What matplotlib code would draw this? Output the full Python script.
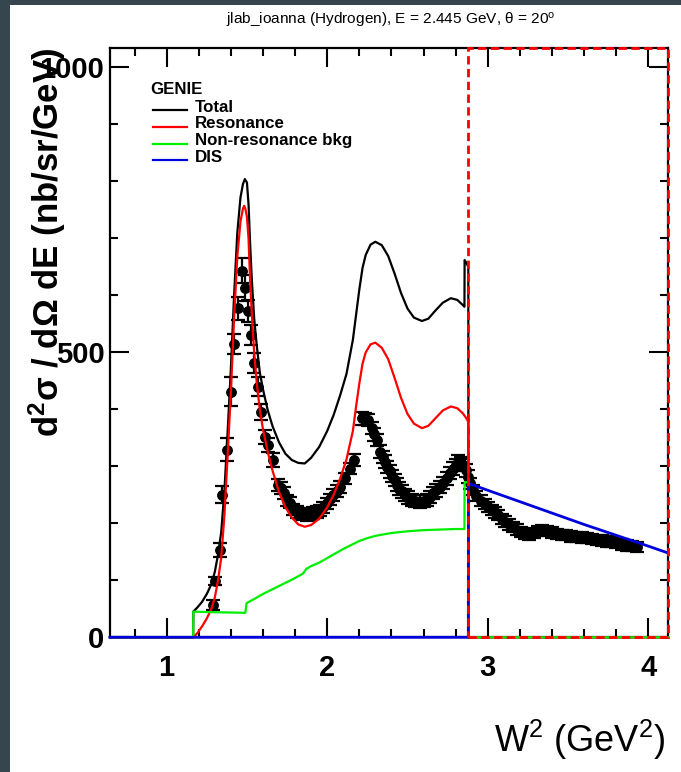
import matplotlib
matplotlib.use("Agg")
import matplotlib.pyplot as plt
from matplotlib.patches import Rectangle
from matplotlib.ticker import MultipleLocator

plt.rcParams['font.family'] = ['Liberation Sans', 'DejaVu Sans']
plt.rcParams['mathtext.fontset'] = 'custom'
plt.rcParams['mathtext.rm'] = 'Liberation Sans'
plt.rcParams['mathtext.it'] = 'Liberation Sans:italic'
plt.rcParams['mathtext.bf'] = 'Liberation Sans:bold'

# ---------------- data ----------------
# measured points (W^2 in GeV^2, cross section in nb/sr/GeV)
data_w2_a = [1.286, 1.300, 1.332, 1.347, 1.378, 1.400, 1.417, 1.446, 1.467, 1.487,
             1.508, 1.525, 1.546, 1.567, 1.588, 1.612, 1.633, 1.664, 1.695, 1.715,
             1.733, 1.748, 1.768, 1.789, 1.810, 1.830, 1.851, 1.872, 1.893, 1.913,
             1.934, 1.955, 1.976, 1.997, 2.017, 2.038, 2.059, 2.080, 2.110, 2.140, 2.170]
data_xs_a = [57, 99, 153, 250, 329, 431, 515, 577, 643, 613,
             573, 530, 481, 440, 396, 352, 337, 311, 267, 262,
             253, 240, 236, 224, 220, 217, 215, 214, 216, 218,
             220, 223, 228, 235, 242, 250, 257, 264, 279, 296, 311]
data_err_a = [9, 7, 12, 15, 20, 25, 18, 20, 22, 23,
              19, 18, 17, 17, 14, 12, 12, 12, 10, 10,
              10, 10, 10, 10, 10, 10, 10, 10, 10, 10,
              10, 10, 10, 10, 10, 10, 10, 10, 10, 10, 10]

data_w2_b = [2.215, 2.235, 2.256, 2.277, 2.290, 2.308, 2.329, 2.345, 2.360, 2.375,
             2.390, 2.405, 2.420, 2.435, 2.450, 2.465, 2.485, 2.505, 2.526, 2.550,
             2.578, 2.600, 2.620, 2.640, 2.660, 2.680, 2.700, 2.720, 2.745, 2.765,
             2.786, 2.800, 2.817, 2.833, 2.848, 2.865, 2.879]
data_xs_b = [384, 383, 381, 367, 356, 346, 326, 316, 308, 299,
             291, 283, 276, 268, 261, 256, 250, 245, 241, 239,
             238, 239, 241, 246, 253, 258, 264, 271, 279, 288,
             296, 302, 308, 305, 302, 293, 282]
data_err_b = 11

data_w2_c = [2.890, 2.910, 2.930, 2.955, 2.980, 3.000, 3.025, 3.045, 3.066, 3.090,
             3.110, 3.135, 3.160, 3.185, 3.210, 3.235, 3.260, 3.290, 3.315, 3.340,
             3.370, 3.400, 3.430, 3.460, 3.490, 3.520, 3.550, 3.585, 3.620, 3.650,
             3.680, 3.710, 3.740, 3.770, 3.800, 3.835, 3.870, 3.900, 3.930]
data_xs_c = [270, 258, 248, 240, 234, 229, 223, 219, 214, 208,
             203, 198, 194, 189, 185, 181, 179, 183, 186, 188,
             187, 184, 181, 180, 179, 177, 176, 175, 174, 172,
             171, 170, 168, 167, 165, 163, 161, 160, 158]
data_err_c = 9

# GENIE curves
total_w2 = [0.647, 1.165, 1.166, 1.19, 1.22, 1.25, 1.28, 1.30, 1.32, 1.34, 1.36, 1.38,
            1.40, 1.42, 1.44, 1.46, 1.475, 1.487, 1.50, 1.51, 1.52, 1.53, 1.545, 1.56,
            1.58, 1.60, 1.63, 1.66, 1.70, 1.74, 1.78, 1.82, 1.86, 1.90, 1.95, 2.00,
            2.04, 2.08, 2.12, 2.16, 2.18, 2.20, 2.22, 2.24, 2.27, 2.30, 2.34, 2.38,
            2.42, 2.46, 2.50, 2.54, 2.59, 2.63, 2.67, 2.72, 2.77, 2.81, 2.845, 2.855,
            2.856, 2.865, 2.879, 2.880, 4.123]
total_val = [0, 0, 45, 52, 62, 76, 94, 115, 145, 185, 258, 362,
             472, 600, 710, 772, 795, 804, 798, 760, 690, 630, 560, 515,
             465, 435, 398, 370, 342, 322, 311, 306, 305, 315, 334, 362,
             390, 424, 462, 522, 566, 610, 648, 671, 689, 694, 688, 669,
             638, 604, 577, 561, 555, 559, 572, 587, 595, 592, 583, 580,
             662, 658, 650, 0, 0]

res_w2 = [0.647, 1.166, 1.19, 1.22, 1.25, 1.28, 1.30, 1.32, 1.34, 1.36, 1.38, 1.40,
          1.42, 1.44, 1.46, 1.475, 1.483, 1.49, 1.50, 1.51, 1.52, 1.53, 1.545, 1.56,
          1.58, 1.60, 1.63, 1.66, 1.70, 1.74, 1.78, 1.82, 1.86, 1.90, 1.95, 2.00,
          2.04, 2.08, 2.12, 2.16, 2.18, 2.20, 2.22, 2.24, 2.27, 2.30, 2.34, 2.38,
          2.42, 2.46, 2.50, 2.54, 2.59, 2.63, 2.67, 2.72, 2.77, 2.81, 2.845, 2.865,
          2.879, 2.880, 4.123]
res_val = [0, 0, 7, 19, 33, 51, 70, 100, 140, 215, 320, 430,
           560, 668, 730, 752, 757, 752, 738, 700, 625, 570, 500, 450,
           400, 365, 325, 292, 255, 228, 210, 198, 194, 197, 208, 228,
           250, 278, 312, 362, 405, 445, 480, 500, 514, 517, 508, 488,
           455, 420, 392, 375, 367, 371, 383, 398, 405, 402, 393, 385,
           378, 0, 0]

nonres_w2 = [0.647, 1.165, 1.166, 1.30, 1.49, 1.498, 1.55, 1.60, 1.65, 1.70, 1.75,
             1.80, 1.85, 1.87, 1.90, 1.95, 2.00, 2.05, 2.10, 2.15, 2.20, 2.25, 2.30,
             2.40, 2.50, 2.60, 2.70, 2.80, 2.855, 2.856, 2.879, 2.880, 4.123]
nonres_val = [0, 0, 45, 44, 43, 60, 68, 76, 83, 90, 97,
              104, 112, 120, 125, 131, 139, 147, 155, 162, 169, 174, 178,
              183, 186, 188, 189, 190, 190, 272, 272, 0, 0]

dis_w2 = [0.647, 2.879, 2.880, 3.0, 3.2, 3.4, 3.6, 3.8, 4.0, 4.123]
dis_val = [0, 0, 270, 258, 238, 218, 198, 179, 160, 148]

x_cut = 2.88
x_range = (0.647, 4.123)
y_range = (0, 1034)

title = "jlab_ioanna (Hydrogen), E = 2.445 GeV, \u03b8 = 20$^{\\mathrm{o}}$"
legend_header = "GENIE"
legend_labels = ["Total", "Resonance", "Non-resonance bkg", "DIS"]
legend_colors = ["#000000", "#ff0000", "#00ee00", "#0000dd"]

# ---------------- figure ----------------
W, H = 681, 772
fig = plt.figure(figsize=(W / 100, H / 100), dpi=100)
fig.patch.set_facecolor("white")
dark = "#36464e"
fig.patches.append(Rectangle((0, 0), 10 / W, 1, transform=fig.transFigure,
                             facecolor=dark, edgecolor="none", zorder=-10))
fig.patches.append(Rectangle((0, 1 - 5 / H), 1, 5 / H, transform=fig.transFigure,
                             facecolor=dark, edgecolor="none", zorder=-10))

ax_l, ax_r, ax_t, ax_b = 110, 668, 48, 637.3
ax = fig.add_axes([ax_l / W, 1 - ax_b / H, (ax_r - ax_l) / W, (ax_b - ax_t) / H])
ax.set_xlim(*x_range)
ax.set_ylim(*y_range)

for s in ax.spines.values():
    s.set_linewidth(1.6)

ax.xaxis.set_major_locator(MultipleLocator(1))
ax.xaxis.set_minor_locator(MultipleLocator(0.2))
ax.yaxis.set_major_locator(MultipleLocator(500))
ax.yaxis.set_minor_locator(MultipleLocator(100))
ax.tick_params(which="both", direction="in", top=True, right=True, width=1.5)
ax.tick_params(which="major", length=14)
ax.tick_params(which="minor", length=6)
ax.tick_params(axis="x", which="major", pad=12, labelsize=21)
ax.tick_params(axis="y", which="major", pad=4, labelsize=21)
for lab in ax.get_xticklabels() + ax.get_yticklabels():
    lab.set_fontweight("bold")

# data points
ekw = dict(fmt="o", color="black", ms=6.8, capsize=5, elinewidth=1.6,
           capthick=1.6, zorder=2, clip_on=False)
ax.errorbar(data_w2_a, data_xs_a, yerr=data_err_a, **ekw)
ax.errorbar(data_w2_b, data_xs_b, yerr=data_err_b, **ekw)
ax.errorbar(data_w2_c, data_xs_c, yerr=data_err_c, **ekw)

# curves
lw = 1.6
ax.plot(total_w2, total_val, color=legend_colors[0], lw=lw, zorder=3, clip_on=False)
ax.plot(res_w2, res_val, color=legend_colors[1], lw=lw, zorder=4, clip_on=False)
ax.plot(nonres_w2, nonres_val, color=legend_colors[2], lw=lw, zorder=5, clip_on=False)
ax.plot(dis_w2, dis_val, color=legend_colors[3], lw=2.0, zorder=6, clip_on=False)

# dashed red box for W^2 > cut
ax.add_patch(Rectangle((x_cut, y_range[0]), x_range[1] - x_cut, y_range[1] - y_range[0],
                       fill=False, edgecolor="#ff0000", lw=2.0,
                       linestyle=(0, (3, 1.6)), zorder=10, clip_on=False))

# legend (manual)
def axy(px, py):
    return (px - ax_l) / (ax_r - ax_l), (ax_b - py) / (ax_b - ax_t)

gx, gy = axy(150, 90)
ax.text(gx, gy, legend_header, transform=ax.transAxes, fontsize=12.2,
        fontweight="bold", ha="left", va="center")
line_ys = [110, 127, 143.5, 160]
for lab, col, ly in zip(legend_labels, legend_colors, line_ys):
    x0, y0 = axy(152.5, ly)
    x1, _ = axy(187, ly)
    ax.plot([x0, x1], [y0, y0], color=col, lw=1.6, transform=ax.transAxes, clip_on=False)
    tx, ty = axy(195, ly - 3)
    ax.text(tx, ty, lab, transform=ax.transAxes, fontsize=12.2, fontweight="bold",
            ha="left", va="center")

# titles
fig.text(391 / W, 1 - 20 / H, title, fontsize=11.1, ha="center", va="center")
fig.text(665 / W, 1 - 740 / H, "W$^{2}$ (GeV$^{2}$)", fontsize=26, ha="right", va="center")
fig.text(47 / W, 1 - 48 / H, "d$^{\\mathbf{2}}$\u03c3 / d\u03a9 dE (nb/sr/GeV)",
         fontsize=25, fontweight="bold", rotation=90, ha="center", va="top")

fig.savefig("out.png", dpi=100)
